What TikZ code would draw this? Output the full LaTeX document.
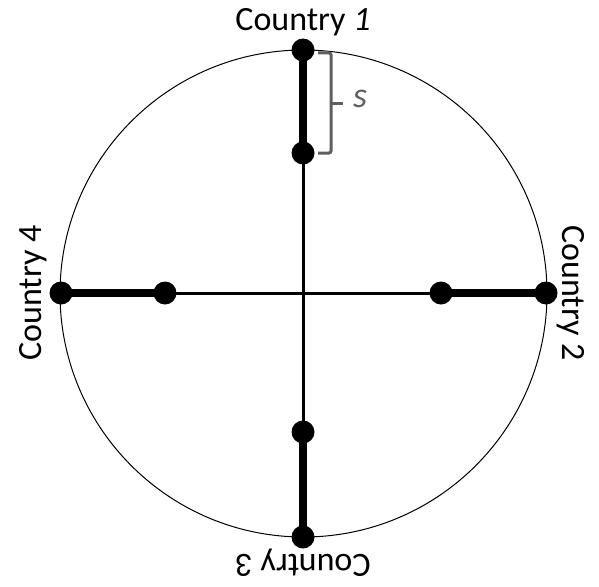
\documentclass[tikz,border=0pt]{standalone}
\usepackage{fontspec}
\setmainfont{Carlito}
\usetikzlibrary{positioning}
\definecolor{brgray}{HTML}{5F5F5F}
\tikzset{
  dot/.style={circle, fill=black, inner sep=0pt, minimum size=23pt},
  axis/.style={line width=3pt},
  leg/.style={line width=8pt},
  rim/.style={line width=1pt},
  country/.style={font=\fontsize{34}{36}\selectfont, inner sep=0pt},
  brc/.style={draw=brgray, line width=3pt, rounded corners=2pt}
}
\begin{document}
\begin{tikzpicture}[x=1pt,y=-1pt]
\useasboundingbox (0,0) rectangle (599,586);
\draw[rim] (303.5,293.5) circle (243.5);
% outer and inner points on each axis
\node[dot] (out1) at (303,50) {};
\node[dot] (in1) at (303,153) {};
\node[dot] (out2) at (546,293) {};
\node[dot] (in2) at (441,293) {};
\node[dot] (out3) at (303,537) {};
\node[dot] (in3) at (303,432) {};
\node[dot] (out4) at (61,293) {};
\node[dot] (in4) at (165,293) {};
\draw[axis] (in1.center) -- (in3.center);
\draw[axis] (in4.center) -- (in2.center);
\foreach \i in {1,...,4}
  \draw[leg] (out\i.center) -- (in\i.center);
% labels
\node[country] (c1) at (303,22) {Country \textit{1}};
\node[country, rotate=-90] (c2) at (571,293) {Country 2};
\node[country, rotate=180] (c3) at (303,563) {Country 3};
\node[country, rotate=90] (c4) at (33,293) {Country 4};
% brace for s
\coordinate (btop) at (318,53);
\coordinate (bbot) at (318,153);
\coordinate (bmid) at (331,103);
\draw[brc] (btop) -| (bmid) |- (bbot);
\draw[brc] (bmid) -- ++(12,0) coordinate (btip);
\node[font=\fontsize{36}{38}\selectfont\itshape, text=brgray, anchor=west, inner sep=0pt] (s) at ([xshift=10pt,yshift=4pt]btip) {s};
\end{tikzpicture}
\end{document}
